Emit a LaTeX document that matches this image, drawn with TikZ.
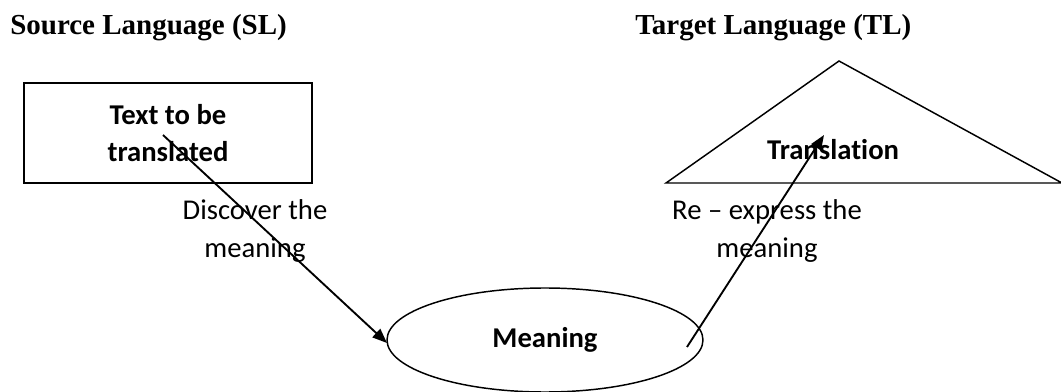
\documentclass[tikz,border=0pt]{standalone}
\usepackage{fontspec}
\setmainfont[Ligatures=NoCommon]{Carlito}
\newfontfamily\titlefont{Liberation Serif}
\usetikzlibrary{arrows.meta,shapes.geometric}
\tikzset{
  title/.style={font=\titlefont\bfseries\fontsize{21.75}{26}\selectfont, anchor=base west, inner sep=0pt},
  boxtext/.style={font=\bfseries\fontsize{21.5}{28}\selectfont, align=center},
  label/.style={font=\fontsize{21.5}{28}\selectfont, align=center, inner sep=0pt},
  flow/.style={line width=1.4pt, -{Triangle[length=11pt,width=8.5pt]}},
  outline/.style={line width=1.1pt}
}
\begin{document}
\begin{tikzpicture}[x=0.75pt,y=-0.75pt]
  \useasboundingbox (0,0) rectangle (1061,392);

  % headings
  \node[title] (sl) at (10,35) {Source Language (SL)};
  \node[title] (tl) at (635,35) {Target Language (TL)};

  % source text box
  \node[draw, outline, boxtext, minimum width=216pt, minimum height=75pt, inner sep=0pt] (src) at (168,133) {Text to be\\translated};

  % target triangle
  \coordinate (apex) at (839,61);
  \coordinate (bl) at (666,183);
  \coordinate (br) at (1062,183);
  \draw[outline] (bl) -- (apex) -- (br) -- cycle;
  \node[boxtext, anchor=base] (tgt) at (833,160) {Translation};

  % meaning ellipse
  \node[draw, outline, ellipse, minimum width=237pt, minimum height=78pt, inner sep=0pt, font=\bfseries\fontsize{21.5}{28}\selectfont] (mean) at (545,340) {Meaning};

  % connectors
  \coordinate (s1) at (163,135);
  \coordinate (e1) at (387,343);
  \coordinate (s2) at (687,347);
  \coordinate (e2) at (824,135);
  \draw[flow] (s1) -- (e1);
  \draw[flow] (s2) -- (e2);

  % connector labels
  \node[label] (disc) at (255,231) {Discover the\\meaning};
  \node[label] (expr) at (767,231) {Re -- express the\\meaning};
\end{tikzpicture}
\end{document}
